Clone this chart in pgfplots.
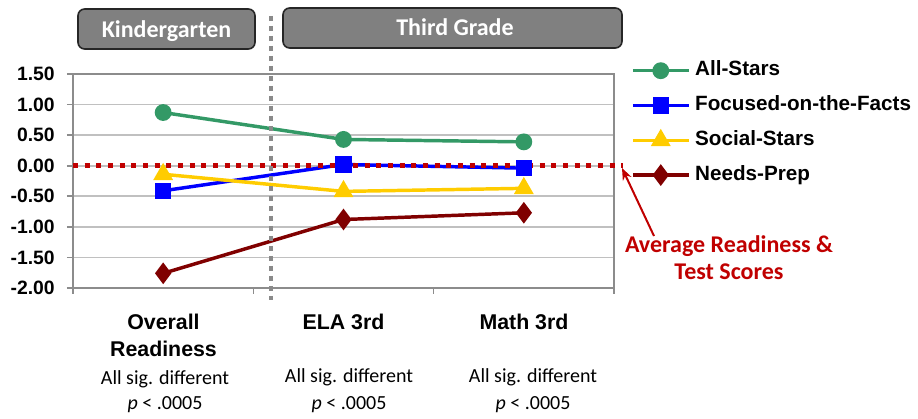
\documentclass[border=0pt]{standalone}
\usepackage{pgfplots}
\pgfplotsset{compat=1.18}
\usetikzlibrary{arrows.meta}
\usepackage{fontspec}
\setmainfont{Liberation Sans}
\newfontfamily\carlito{Carlito}
\definecolor{cgreen}{HTML}{339966}
\definecolor{cblue}{HTML}{0000FF}
\definecolor{cyellow}{HTML}{FFCC00}
\definecolor{cdred}{HTML}{800000}
\definecolor{cred}{HTML}{C00000}
\definecolor{axgray}{HTML}{8C8C8C}
\definecolor{gridgray}{HTML}{C0C0C0}
\definecolor{boxgray}{HTML}{808080}
\definecolor{dotgray}{HTML}{8A8A8A}
\begin{document}
\begin{tikzpicture}
\begin{scope}[x=0.75pt,y=-0.75pt,shift={(0pt,313.5pt)}]
\path[use as bounding box] (0,0) rectangle (918,418);
\end{scope}
\begin{axis}[
  at={(54.75pt,97.5pt)}, anchor=south west,
  scale only axis, width=405.75pt, height=160.5pt,
  xmin=-0.5, xmax=2.5, ymin=-2, ymax=1.5,
  clip=false,
  xtick={-0.5,0.5,1.5,2.5}, xticklabels={},
  ytick={-2,-1.5,-1,-0.5,0,0.5,1,1.5},
  xtick pos=bottom, ytick pos=left,
  tick align=outside, major tick length=4.5pt,
  axis line style={draw=axgray, line width=1.5pt},
  tick style={draw=axgray, line width=1.2pt},
  ymajorgrids, grid style={draw=gridgray, line width=1.3pt},
  yticklabel style={font=\bfseries\fontsize{14.5}{14.5}\selectfont, inner sep=0pt, xshift=-9pt,
    /pgf/number format/.cd, fixed, fixed zerofill, precision=2, assume math mode=true},
  legend cell align=left,
  legend image code/.code={\draw[mark repeat=2,mark phase=2] plot coordinates {(0pt,0pt) (21pt,0pt) (42pt,0pt)};},
  legend style={at={(axis description cs:1.0315,1.0607)}, anchor=north west, draw=none, fill=none,
    inner sep=0pt, outer sep=0pt, row sep=11.6pt,
    font=\bfseries\fontsize{15.5}{15.5}\selectfont,
    nodes={inner sep=0pt, text height=11pt, text depth=3.5pt},
    /tikz/every odd column/.append style={column sep=3.5pt}},
]
\addplot[cgreen, line width=2.6pt, mark=*, mark size=5pt, mark options={solid}] coordinates {(0,0.87) (1,0.43) (2,0.39)};
\addlegendentry{All-Stars}
\addplot[cblue, line width=2.6pt, mark=square*, mark size=4.8pt] coordinates {(0,-0.41) (1,0.02) (2,-0.04)};
\addlegendentry{Focused-on-the-Facts}
\addplot[cyellow, line width=2.6pt, mark=triangle*, mark size=6pt] coordinates {(0,-0.14) (1,-0.42) (2,-0.37)};
\addlegendentry{Social-Stars}
\addplot[cdred, line width=2.6pt, mark=diamond*, mark size=6pt] coordinates {(0,-1.76) (1,-0.88) (2,-0.77)};
\addlegendentry{Needs-Prep}
\draw[cred, line width=3.75pt, dash pattern=on 3.75pt off 5pt] (axis cs:-0.5,0) -- (axis cs:2.55,0);
\end{axis}
\begin{scope}[x=0.75pt,y=-0.75pt,shift={(0pt,313.5pt)}]
% vertical dotted divider
\draw[dotgray, line width=3pt, dash pattern=on 3.75pt off 3.75pt] (271,16) -- (271,300);
% header boxes
\draw[rounded corners=5pt, fill=boxgray, draw=black!85, line width=1.2pt] (78,9) rectangle (255,49);
\node[anchor=base, text=white, font=\carlito\bfseries\fontsize{18}{18}\selectfont] at (166.5,38) {Kindergarten};
\draw[rounded corners=5pt, fill=boxgray, draw=black!85, line width=1.2pt] (283,8) rectangle (622,48);
\node[anchor=base, text=white, font=\carlito\bfseries\fontsize{18}{18}\selectfont] at (455,36) {Third Grade};
% annotation
\draw[cred, line width=1.5pt, -{Stealth[length=9pt,width=7pt]}] (654,236) -- (622,168);
\node[anchor=base, text=cred, font=\carlito\bfseries\fontsize{18}{18}\selectfont] at (729,253) {Average Readiness \&};
\node[anchor=base, text=cred, font=\carlito\bfseries\fontsize{18}{18}\selectfont] at (729,280) {Test Scores};
% category labels
\node[anchor=base, font=\bfseries\fontsize{16}{16}\selectfont] at (163.5,329.5) {Overall};
\node[anchor=base, font=\bfseries\fontsize{16}{16}\selectfont] at (163.5,356.5) {Readiness};
\node[anchor=base, font=\bfseries\fontsize{16}{16}\selectfont] at (343.5,329.5) {ELA 3rd};
\node[anchor=base, font=\bfseries\fontsize{16}{16}\selectfont] at (524,329.5) {Math 3rd};
\node[anchor=base, font=\carlito\fontsize{15}{15}\selectfont] at (165,384) {All sig. different};
\node[anchor=base, font=\carlito\fontsize{15}{15}\selectfont] at (165,410) {{\itshape p} < .0005};
\node[anchor=base, font=\carlito\fontsize{15}{15}\selectfont] at (349,382) {All sig. different};
\node[anchor=base, font=\carlito\fontsize{15}{15}\selectfont] at (349,410) {{\itshape p} < .0005};
\node[anchor=base, font=\carlito\fontsize{15}{15}\selectfont] at (533,382) {All sig. different};
\node[anchor=base, font=\carlito\fontsize{15}{15}\selectfont] at (533,410) {{\itshape p} < .0005};
\end{scope}
\end{tikzpicture}
\end{document}
